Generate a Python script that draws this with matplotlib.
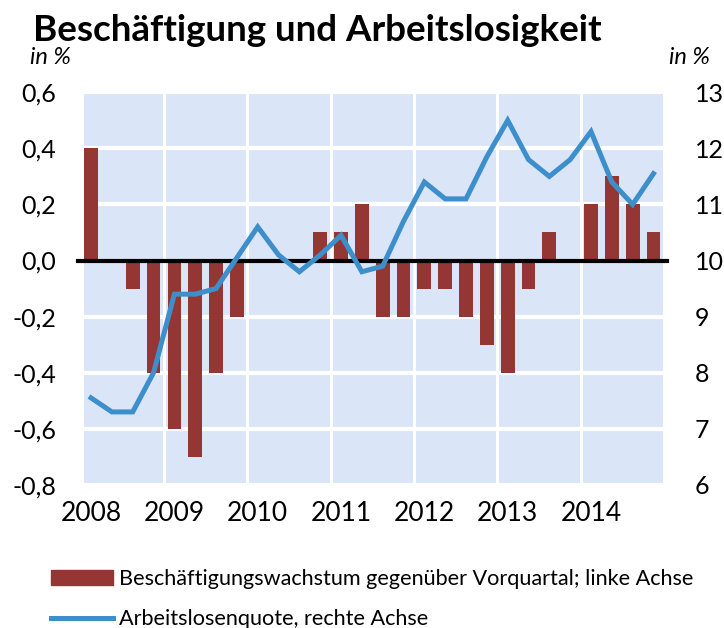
import matplotlib.pyplot as plt
import matplotlib.patches as mpatches
import matplotlib.lines as mlines
from matplotlib.ticker import FuncFormatter
import numpy as np

plt.rcParams['font.family'] = ['Lato', 'DejaVu Sans']

# quarterly data 2008Q1 .. 2014Q4
years = ['2008', '2009', '2010', '2011', '2012', '2013', '2014']
employment_growth = [0.4, 0.0, -0.1, -0.4,
                     -0.6, -0.7, -0.4, -0.2,
                     0.0, 0.0, 0.0, 0.1,
                     0.1, 0.2, -0.2, -0.2,
                     -0.1, -0.1, -0.2, -0.3,
                     -0.4, -0.1, 0.1, 0.0,
                     0.2, 0.3, 0.2, 0.1]
unemployment_rate = [7.55, 7.3, 7.3, 8.0,
                     9.4, 9.4, 9.5, 10.05,
                     10.6, 10.1, 9.8, 10.1,
                     10.45, 9.8, 9.9, 10.7,
                     11.4, 11.1, 11.1, 11.85,
                     12.5, 11.8, 11.5, 11.8,
                     12.3, 11.4, 11.0, 11.55]

bar_color = '#943634'
line_color = '#3D8FCB'
bg_color = '#DBE5F8'

x = np.arange(len(employment_growth))

fig = plt.figure(figsize=(7.24, 6.28), dpi=100)
ax = fig.add_axes([0.116, 0.228, 0.801, 0.625])
ax2 = ax.twinx()

ax.set_facecolor(bg_color)
ax.bar(x, employment_growth, width=0.66, color=bar_color, zorder=2)
ax.axhline(0, color='black', lw=3, zorder=3, xmin=-0.01, xmax=1.005, clip_on=False)

ax.set_ylim(-0.8, 0.6)
ax.set_xlim(-0.34, len(x) - 0.66)
ax.set_yticks(np.arange(-0.8, 0.61, 0.2))
ax.yaxis.set_major_formatter(FuncFormatter(lambda v, p: f'{v:.1f}'.replace('.', ',').replace('-0,0', '0,0')))
ax.set_xticks(x[::4])
ax.set_xticklabels(years)
ax.set_xticks(x[3::4] + 0.5, minor=True)
ax.grid(True, which='minor', axis='x', color='white', lw=2.2, zorder=1)
ax.grid(True, which='major', axis='y', color='white', lw=3, zorder=1)

ax2.plot(x, unemployment_rate, color=line_color, lw=3.6, zorder=4, solid_joinstyle='miter')
ax2.set_ylim(6, 13)
ax2.set_yticks(range(6, 14))

for a in (ax, ax2):
    for s in a.spines.values():
        s.set_visible(False)
    a.tick_params(length=0, labelsize=18)
ax.tick_params(axis='x', which='both', length=0, labelsize=19, pad=12)
ax.tick_params(axis='y', pad=20)
ax2.tick_params(axis='y', pad=22)

fig.text(0.046, 0.952, 'Beschäftigung und Arbeitslosigkeit', fontsize=26.5, fontweight='bold', va='center')
fig.text(0.041, 0.908, 'in %', fontsize=17, style='italic', va='center')
fig.text(0.98, 0.908, 'in %', fontsize=17, style='italic', va='center', ha='right')

h_bar = mpatches.Patch(color=bar_color, label='Beschäftigungswachstum gegenüber Vorquartal; linke Achse')
h_line = mlines.Line2D([], [], color=line_color, lw=3.6, label='Arbeitslosenquote, rechte Achse')
fig.legend(handles=[h_bar, h_line], loc='lower left', bbox_to_anchor=(0.058, -0.016),
           frameon=False, fontsize=15.6, handlelength=2.9, handleheight=0.72,
           handletextpad=0.25, labelspacing=0.95, borderaxespad=0)

fig.savefig('out.png', dpi=100)
